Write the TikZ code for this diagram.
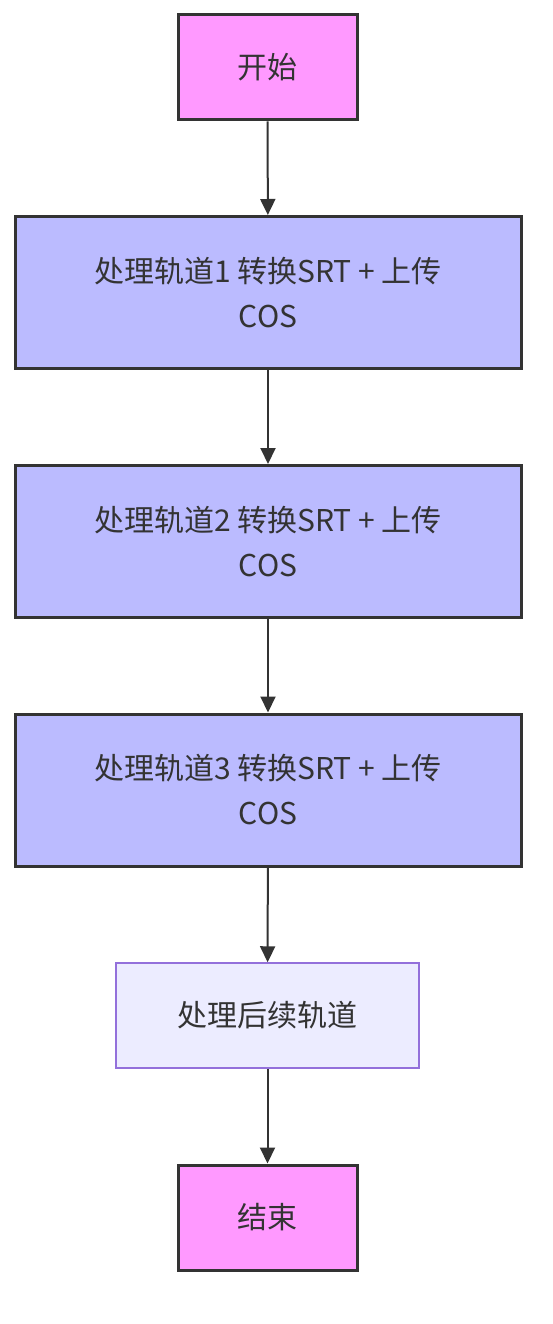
\documentclass[tikz,border=0pt]{standalone}
\usepackage{fontspec}
\setmainfont{Noto Sans CJK SC}
\usetikzlibrary{arrows.meta}

\begin{document}
\begin{tikzpicture}[x=1pt,y=-1pt,
  term/.style={draw=black!80, line width=3pt, fill={rgb,255:red,255;green,153;blue,255},
    minimum width=179pt, minimum height=105pt, inner sep=0pt},
  track/.style={draw=black!80, line width=3pt, fill={rgb,255:red,187;green,187;blue,255},
    minimum width=506pt, minimum height=152pt, inner sep=0pt, align=center},
  rest/.style={draw={rgb,255:red,147;green,112;blue,219}, line width=1.5pt, fill={rgb,255:red,236;green,236;blue,255},
    minimum width=303pt, minimum height=105pt, inner sep=0pt},
  flow/.style={line width=2pt, black!80, -{Triangle[length=16pt,width=15pt]}},
  font=\fontsize{30}{45}\selectfont, text=black!80]
\useasboundingbox (0,0) rectangle (552,1324);
\node[term] (start) at (267.5,67.5) {开始};
\node[track] (t1) at (268,292.5) {处理轨道1 转换SRT + 上传\\COS};
\node[track] (t2) at (268,541.5) {处理轨道2 转换SRT + 上传\\COS};
\node[track] (t3) at (268,790) {处理轨道3 转换SRT + 上传\\COS};
\node[rest] (more) at (267.5,1015.5) {处理后续轨道};
\node[term] (end) at (267.5,1217.5) {结束};
\draw[flow] (start) -- (t1);
\draw[flow] (t1) -- (t2);
\draw[flow] (t2) -- (t3);
\draw[flow] (t3) -- (more);
\draw[flow] (more) -- (end);
\end{tikzpicture}
\end{document}
